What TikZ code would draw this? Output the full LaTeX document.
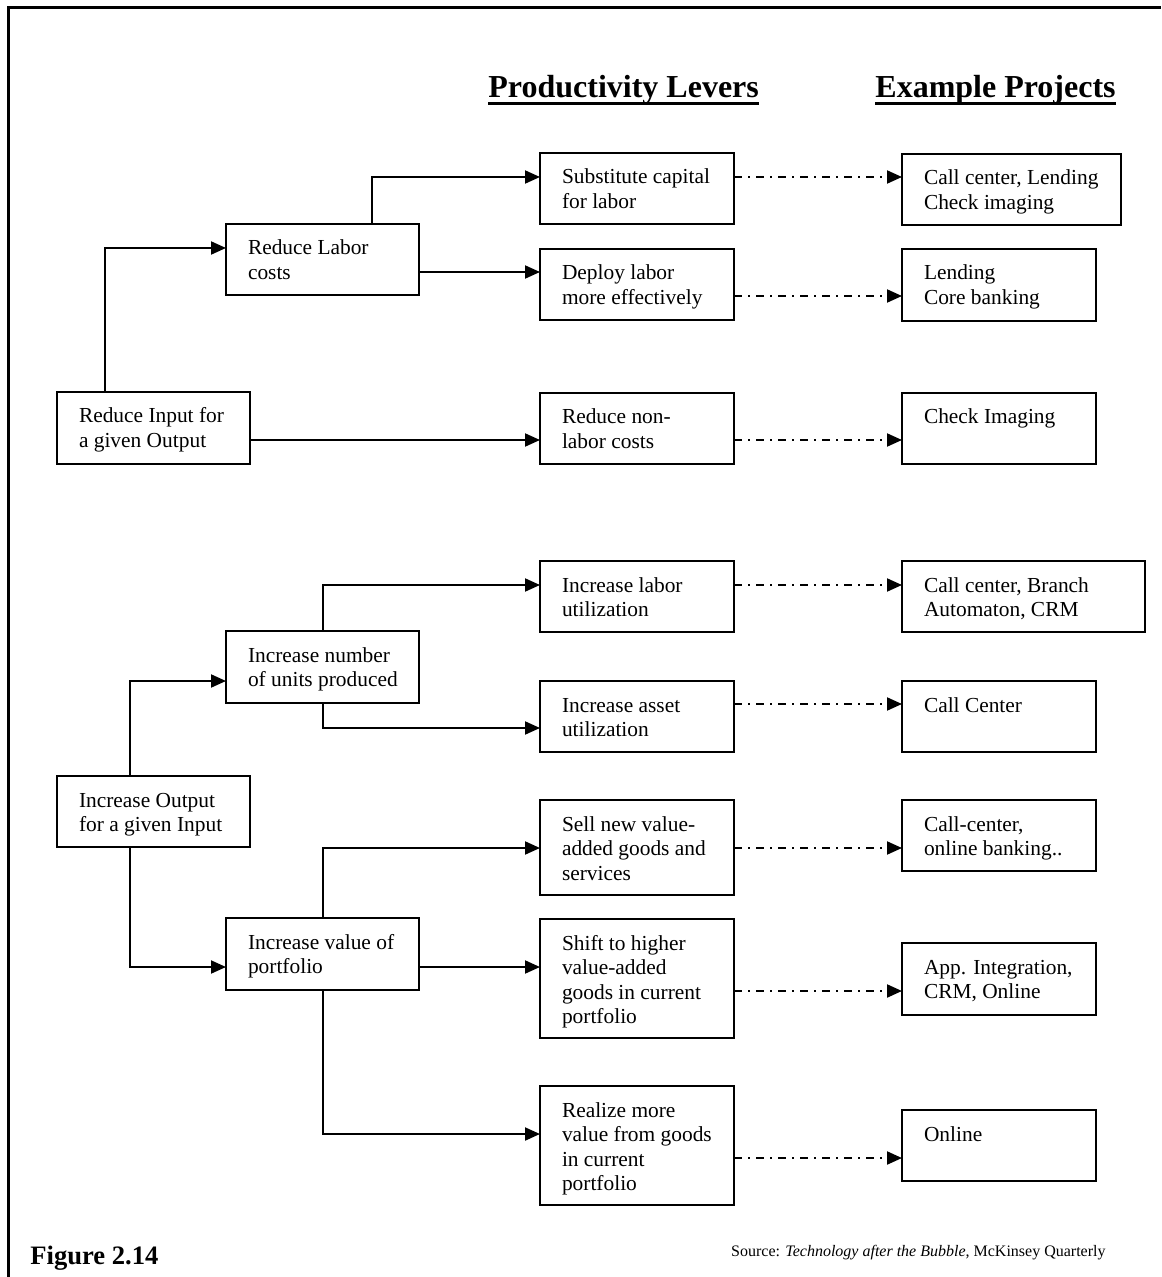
\documentclass[tikz,border=0pt]{standalone}
\usepackage{fontspec}
\setmainfont{Liberation Serif}
\usetikzlibrary{arrows.meta}

% one drawing unit
\newlength\px
\setlength\px{0.5pt}

% top-left aligned text block of a given width and height (in drawing units)
\newcommand{\cell}[3]{%
  \begin{minipage}[c][#2\px][t]{#1\px}%
    \raggedright\leftskip=22\px
    \rule{0pt}{31\px}#3%
  \end{minipage}}

\tikzset{
  box/.style={draw, line width=1pt, anchor=north west, inner sep=0pt, outer sep=0pt,
    font=\fontsize{10.7pt}{12.25pt}\selectfont},
  conn/.style={line width=1pt, -{Triangle[length=7.5pt,width=6.5pt]}},
  dd/.style={line width=1pt, dash pattern=on 4pt off 3pt on 1pt off 3pt,
    -{Triangle[length=7.5pt,width=6.5pt]}},
  head/.style={anchor=base west, inner sep=0pt, font=\fontsize{16pt}{18pt}\selectfont\bfseries},
}

\begin{document}
\begin{tikzpicture}[x=0.5pt, y=-0.5pt]
\useasboundingbox (0,0) rectangle (1161,1277);

% frame
\draw[line width=1.5pt] (8,1277) -- (8,8) -- (1161,8);

% column headings
\node[head] (h1) at (488,98) {Productivity Levers};
\node[head] (h2) at (875,98) {Example Projects};
\draw[line width=1.5pt] ([yshift=-3pt]h1.base west) -- ([yshift=-3pt]h1.base east);
\draw[line width=1.5pt] ([yshift=-3pt]h2.base west) -- ([yshift=-3pt]h2.base east);

% first level
\node[box] (ri) at (57,392) {\cell{193}{72}{Reduce Input for\\a given Output}};
\node[box] (io) at (57,776) {\cell{193}{71}{Increase Output\\for a given Input}};

% second level
\node[box] (rl)   at (226,224) {\cell{193}{71}{Reduce Labor\\costs}};
\node[box] (inum) at (226,631) {\cell{193}{72}{Increase number\\of units produced}};
\node[box] (iv)   at (226,918) {\cell{193}{72}{Increase value of\\portfolio}};

% productivity levers
\node[box] (sub) at (540,153)  {\cell{194}{71}{Substitute capital\\for labor}};
\node[box] (dep) at (540,249)  {\cell{194}{71}{Deploy labor\\more effectively}};
\node[box] (rnl) at (540,393)  {\cell{194}{71}{Reduce non-\\labor costs}};
\node[box] (ilu) at (540,561)  {\cell{194}{71}{Increase labor\\utilization}};
\node[box] (iau) at (540,681)  {\cell{194}{71}{Increase asset\\utilization}};
\node[box] (snv) at (540,800)  {\cell{194}{95}{Sell new value-\\added goods and\\services}};
\node[box] (sth) at (540,919)  {\cell{194}{119}{Shift to higher\\value-added\\goods in current\\portfolio}};
\node[box] (rmv) at (540,1086) {\cell{194}{119}{Realize more\\value from goods\\in current\\portfolio}};

% example projects
\node[box] (p1) at (902,154)  {\cell{219}{71}{Call center, Lending\\Check imaging}};
\node[box] (p2) at (902,249)  {\cell{194}{72}{Lending\\Core banking}};
\node[box] (p3) at (902,393)  {\cell{194}{71}{Check Imaging}};
\node[box] (p4) at (902,561)  {\cell{243}{71}{Call center, Branch\\Automaton, CRM}};
\node[box] (p5) at (902,681)  {\cell{194}{71}{Call Center}};
\node[box] (p6) at (902,800)  {\cell{194}{71}{Call-center,\\online banking..}};
\node[box] (p7) at (902,943)  {\cell{194}{72}{App. Integration,\\CRM, Online}};
\node[box] (p8) at (902,1110) {\cell{194}{71}{Online}};

% tree connectors
\draw[conn] (ri.north -| 105,0) |- (rl.west |- 0,248);
\draw[conn] (rl.north -| 372,0) |- (sub.west |- 0,177);
\draw[conn] (rl.east |- 0,272) -- (dep.west |- 0,272);
\draw[conn] (ri.east |- 0,440) -- (rnl.west |- 0,440);
\draw[conn] (io.north -| 130,0) |- (inum.west |- 0,681);
\draw[conn] (inum.north -| 323,0) |- (ilu.west |- 0,585);
\draw[conn] (inum.south -| 323,0) |- (iau.west |- 0,728);
\draw[conn] (io.south -| 130,0) |- (iv.west |- 0,967);
\draw[conn] (iv.north -| 323,0) |- (snv.west |- 0,848);
\draw[conn] (iv.east |- 0,967) -- (sth.west |- 0,967);
\draw[conn] (iv.south -| 323,0) |- (rmv.west |- 0,1134);

% lever to project links
\draw[dd] (sub.east |- 0,177)  -- (p1.west |- 0,177);
\draw[dd] (dep.east |- 0,296)  -- (p2.west |- 0,296);
\draw[dd] (rnl.east |- 0,440)  -- (p3.west |- 0,440);
\draw[dd] (ilu.east |- 0,585)  -- (p4.west |- 0,585);
\draw[dd] (iau.east |- 0,704)  -- (p5.west |- 0,704);
\draw[dd] (snv.east |- 0,848)  -- (p6.west |- 0,848);
\draw[dd] (sth.east |- 0,991)  -- (p7.west |- 0,991);
\draw[dd] (rmv.east |- 0,1158) -- (p8.west |- 0,1158);

% caption and source
\node[anchor=base west, inner sep=0pt, font=\fontsize{13.3pt}{15pt}\selectfont\bfseries] (fig) at (30,1264) {Figure 2.14};
\node[anchor=base east, inner sep=0pt, font=\fontsize{8pt}{9pt}\selectfont] (src) at (1106,1256)
  {Source: \textit{Technology after the Bubble}, McKinsey Quarterly};
\end{tikzpicture}
\end{document}
